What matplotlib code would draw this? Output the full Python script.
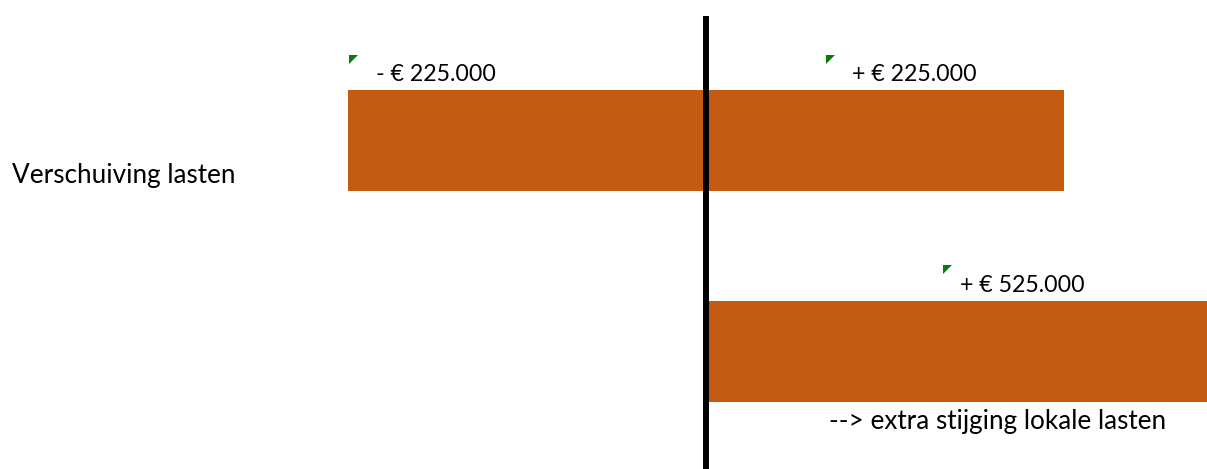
import matplotlib
matplotlib.use("Agg")
import matplotlib.pyplot as plt

# data
categories = ["Verschuiving lasten", ""]
left_vals = [-225000, 0]
right_vals = [225000, 525000]
labels = ["- € 225.000", "+ € 225.000", "+ € 525.000"]
note = "--> extra stijging lokale lasten"

plt.rcParams['font.family'] = ['Lato', 'DejaVu Sans']

fig = plt.figure(figsize=(12.07, 4.69), dpi=100)
ax = fig.add_axes([0, 0, 1, 1])

y = list(range(len(categories)))
ax.barh(y, left_vals, height=0.483, color="#C55A11")
ax.barh(y, right_vals, height=0.483, color="#C55A11")

ax.axvline(0, ymax=1 - 16 / 469, color="black", lw=4.3, solid_capstyle="butt")

ax.set_xlim(-443715, 314874)
ax.set_ylim(1.557, -0.666)
ax.axis("off")

# category label
ax.text(12 / 1207, 1 - 175 / 469, categories[0], transform=ax.transAxes,
        fontsize=18.8, ha="left", va="center")

# value labels (x in data, y as category offset)
lab_pos = [(-207400, -0.312), (91500, -0.312), (159700, 0.688)]
tri_pos = [(-221550, -0.384), (77620, -0.384), (151780, 0.611)]
for (lx, ly), t in zip(lab_pos, labels):
    ax.text(lx, ly, t, fontsize=16.7, ha="left", va="center")
for tx, ty in tri_pos:
    ax.plot(tx, ty, marker=[(-1, 1), (1, 1), (-1, -1)], ms=6.5,
            color="#0A7A0A", mec="none")

ax.text(77200, 1.334, note, fontsize=18.8, ha="left", va="center")

fig.savefig("out.png", dpi=100)
